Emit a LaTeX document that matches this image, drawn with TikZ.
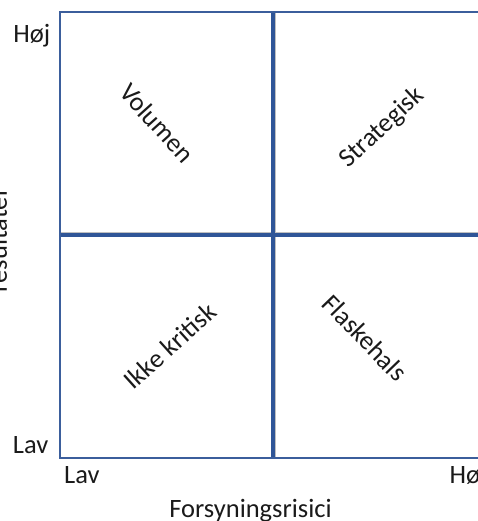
\documentclass[tikz,border=0pt]{standalone}
\usepackage{fontspec}
\setmainfont{Carlito}
\definecolor{gridblue}{HTML}{2F5597}
\definecolor{frameblue}{HTML}{3B5E9C}
\definecolor{inkgray}{HTML}{1A1A1A}
\begin{document}
\begin{tikzpicture}[x=1pt,y=-1pt,
  lbl/.style={inner sep=0pt,text=inkgray,font=\fontsize{26.5}{30}\selectfont},
  frame/.style={draw=frameblue,line width=2.2pt},
  divider/.style={draw=gridblue,line width=3.8pt},
  shade/.style={draw=black!25,line width=3.8pt}]
\useasboundingbox (0,0) rectangle (477,521);
% grid corners and midpoints
\coordinate (tl) at (59.7,11.7);
\coordinate (tr) at (486,11.7);
\coordinate (bl) at (59.7,458);
\coordinate (br) at (486,458);
\coordinate (mt) at (272.8,11.7);
\coordinate (mb) at (272.8,458);
\coordinate (ml) at (59.7,235);
\coordinate (mr) at (486,235);
% soft shadow under the dividers
\draw[shade] ([xshift=1pt]mt) -- ([xshift=1pt]mb);
\draw[shade] ([yshift=1.2pt]ml) -- ([yshift=1.2pt]mr);
% dividers
\draw[divider] (mt) -- (mb);
\draw[divider] (ml) -- (mr);
% outer frame
\draw[frame] (tl) -- (tr) -- (br) -- (bl) -- cycle;
% quadrant labels
\node[lbl,rotate=-48] (vol) at (157,123) {Volumen};
\node[lbl,rotate=43] (str) at (382,128) {Strategisk};
\node[lbl,rotate=42] (ikk) at (170,346) {Ikke kritisk};
\node[lbl,rotate=-46] (fla) at (365,338) {Flaskehals};
% axis ends
\node[lbl,anchor=base east] (yhi) at (50.5,43) {Høj};
\node[lbl,anchor=base east] (ylo) at (48.5,453) {Lav};
\node[lbl,anchor=base west] (xlo) at (64,483) {Lav};
\node[lbl,anchor=base west] (xhi) at (449.5,483) {Høj};
% axis titles
\node[lbl,anchor=base] (xt) at (250.5,517) {Forsyningsrisici};
\node[lbl,anchor=base,rotate=90] (yt) at (6.8,240) {resultater};
\end{tikzpicture}
\end{document}
